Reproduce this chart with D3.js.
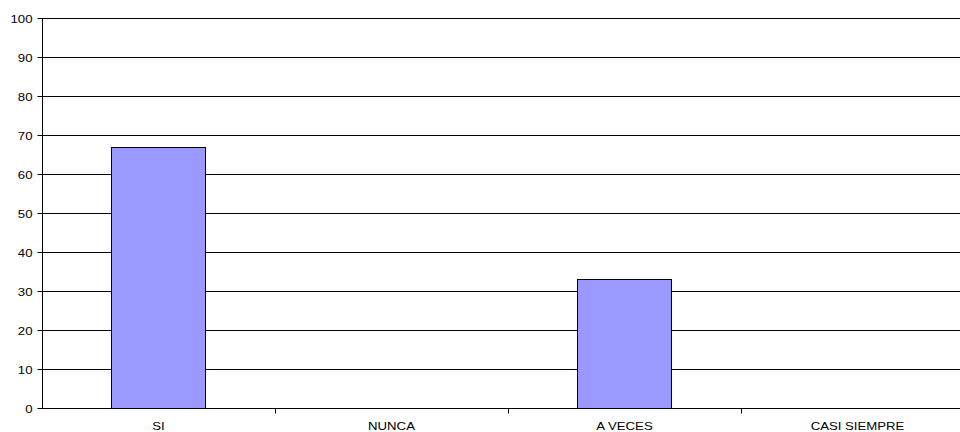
<!DOCTYPE html>
<html><head><meta charset="utf-8">
<script src="https://cdn.jsdelivr.net/npm/d3@7"></script>
<style>body{margin:0;background:#fff}svg{display:block}text{font-family:"Liberation Sans",Arial,sans-serif;font-size:11px;fill:#000}</style>
</head><body><svg id="c" width="960" height="432"></svg>
<script>
const categories = ["SI","NUNCA","A VECES","CASI SIEMPRE"];
const values = [67,0,33,0];
const yTicks = [0,10,20,30,40,50,60,70,80,90,100];

const svg = d3.select("#c");
const L = 42, R = 974, T = 18, B = 408, SX = 1.2;
const x = d3.scaleBand().domain(categories).range([L,R]).paddingInner(0.6).paddingOuter(0.3);
const xb = d3.scaleBand().domain(categories).range([L,R]);
const y = d3.scaleLinear().domain([0,100]).range([B,T]);

svg.append("g").selectAll("line").data(yTicks.filter(d=>d>0)).join("line")
  .attr("x1",L).attr("x2",R).attr("y1",d=>y(d)+0.5).attr("y2",d=>y(d)+0.5)
  .attr("stroke","#000").attr("stroke-width",1);

svg.append("g").selectAll("rect").data(categories.map((c,i)=>({c,v:values[i]})).filter(d=>d.v>0)).join("rect")
  .attr("x",d=>Math.round(x(d.c)-1)+0.5).attr("y",d=>Math.round(y(d.v))+0.5)
  .attr("width",Math.round(x.bandwidth())+1).attr("height",d=>B-Math.round(y(d.v)))
  .attr("fill","#9999FF").attr("stroke","#000").attr("stroke-width",1);

const ya = svg.append("g").attr("transform",`translate(${L+0.5},0.5)`);
ya.append("line").attr("y1",T).attr("y2",B).attr("stroke","#000");
ya.selectAll("line.t").data(yTicks).join("line").attr("class","t")
  .attr("x1",-5).attr("x2",0).attr("y1",d=>y(d)).attr("y2",d=>y(d)).attr("stroke","#000");
ya.selectAll("text").data(yTicks).join("text")
  .attr("text-anchor","end")
  .attr("transform",d=>`translate(-10,${y(d)+4}) scale(${SX},1)`)
  .text(d=>d3.format("d")(d));

const xa = svg.append("g").attr("transform",`translate(0,${B+0.5})`);
xa.append("line").attr("x1",L).attr("x2",R).attr("stroke","#000");
xa.selectAll("line.t").data(categories.slice(1)).join("line").attr("class","t")
  .attr("x1",d=>Math.round(xb(d))+0.5).attr("x2",d=>Math.round(xb(d))+0.5).attr("y1",0).attr("y2",5).attr("stroke","#000");
xa.selectAll("text").data(categories).join("text")
  .attr("text-anchor","middle")
  .attr("transform",d=>`translate(${xb(d)+xb.bandwidth()/2},21) scale(${SX},1)`)
  .text(d=>d);
</script></body></html>
